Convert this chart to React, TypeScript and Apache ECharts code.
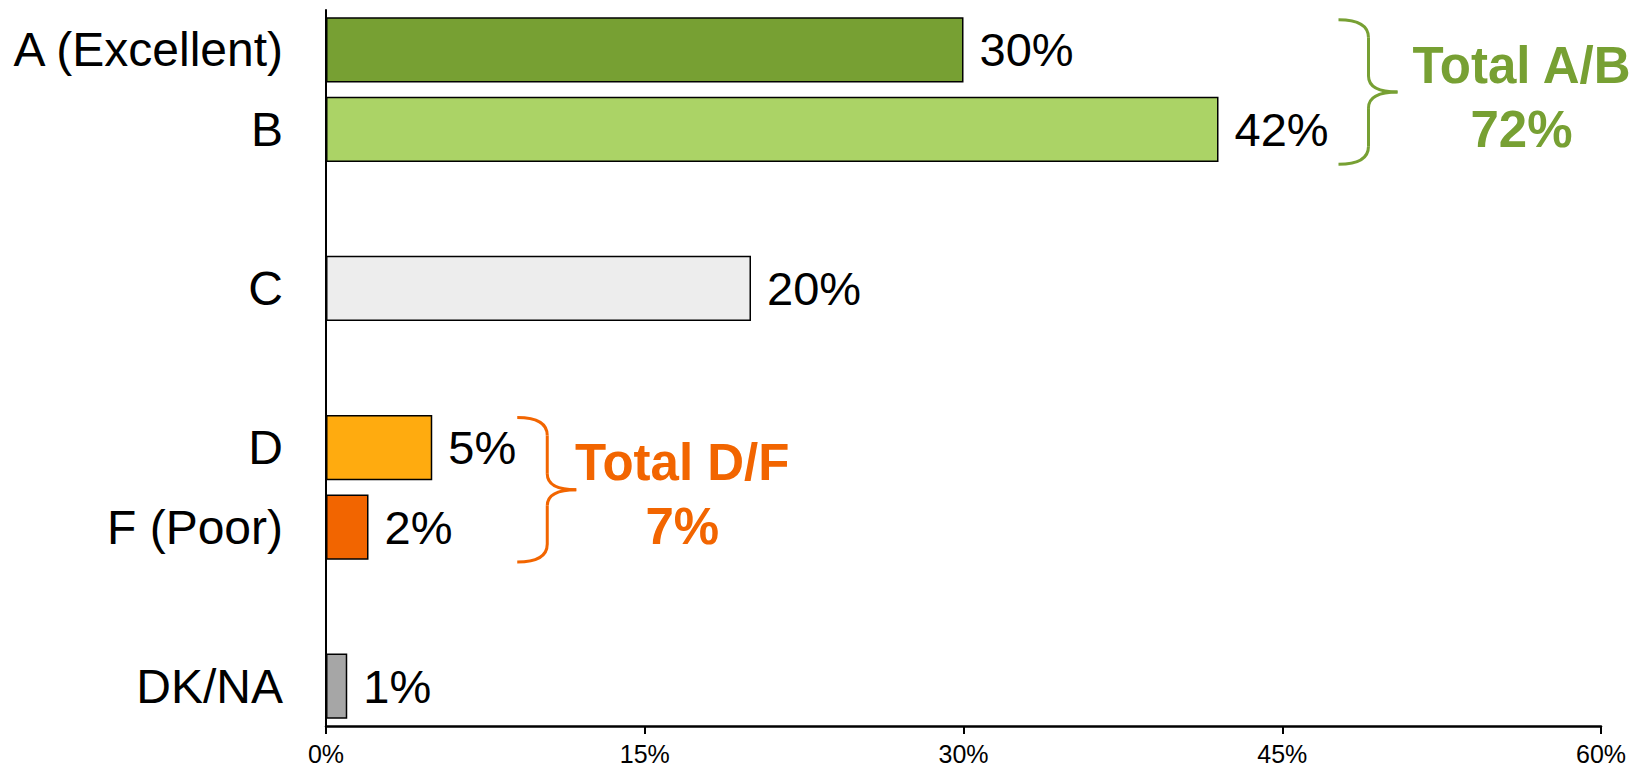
import React, { useEffect, useRef } from "react";
import * as echarts from "echarts";

// ---- data ----
const categories = ["A (Excellent)", "B", "C", "D", "F (Poor)", "DK/NA"];
const values = [30, 42, 20, 5, 2, 1];
const barColors = ["#77A033", "#ABD366", "#EDEDED", "#FFAB0F", "#F26500", "#A6A6A6"];
const gapBefore = ["C", "D", "DK/NA"];
const xTicks = { min: 0, max: 60, interval: 15 };
const groupLabels = ["Total A/B", "Total D/F"];
const groupMembers = [["A (Excellent)", "B"], ["D", "F (Poor)"]];
const groupColors = ["#77A033", "#F26500"];
// annotation layout (pixels relative to bars)
const groupLayout = [
  { braceDx: 120, textDx: 124 },
  { braceDx: 85, textDx: 106 },
];

const FONT = "'Liberation Sans', Arial, Helvetica, sans-serif";

export default function App() {
  const ref = useRef<HTMLDivElement>(null);

  useEffect(() => {
    if (!ref.current) return;
    const chart = echarts.init(ref.current, undefined, { renderer: "svg" });

    const axisData: string[] = [];
    const seriesData: any[] = [];
    let g = 0;
    categories.forEach((c, i) => {
      if (gapBefore.includes(c)) {
        axisData.push("__gap" + g++);
        seriesData.push(null);
      }
      axisData.push(c);
      seriesData.push({ value: values[i], itemStyle: { color: barColors[i] } });
    });

    chart.setOption({
      animation: false,
      grid: { left: 326, right: 40, top: 10, bottom: 44, containLabel: false },
      xAxis: {
        type: "value",
        min: xTicks.min,
        max: xTicks.max,
        interval: xTicks.interval,
        splitLine: { show: false },
        axisLine: { show: true, lineStyle: { color: "#000", width: 2.5 } },
        axisTick: { show: true, length: 8, lineStyle: { color: "#000", width: 2 } },
        axisLabel: {
          formatter: "{value}%",
          color: "#000",
          fontSize: 25,
          fontFamily: FONT,
          margin: 15,
        },
      },
      yAxis: {
        type: "category",
        inverse: true,
        data: axisData,
        axisTick: { show: false },
        axisLine: { show: true, lineStyle: { color: "#000", width: 2 } },
        axisLabel: {
          color: "#000",
          fontSize: 48,
          fontFamily: FONT,
          margin: 43,
          formatter: (v: string) => (v.startsWith("__gap") ? "" : v),
        },
      },
      series: [
        {
          type: "bar",
          data: seriesData,
          barCategoryGap: "18%",
          itemStyle: { borderColor: "#000", borderWidth: 1.5 },
          label: {
            show: true,
            position: "right",
            distance: 16,
            formatter: "{c}%",
            color: "#000",
            fontSize: 47,
            fontFamily: FONT,
          },
        },
      ],
    });

    // annotations: braces and totals
    const graphics: any[] = [];
    groupLabels.forEach((lbl, gi) => {
      const members = groupMembers[gi];
      const vals = members.map((m) => values[categories.indexOf(m)]);
      const total = vals.reduce((a, b) => a + b, 0);
      const maxVal = Math.max(...vals);
      const xMax = chart.convertToPixel({ xAxisIndex: 0 }, maxVal) as number;
      const yFirst = chart.convertToPixel({ yAxisIndex: 0 }, members[0]) as number;
      const yLast = chart.convertToPixel({ yAxisIndex: 0 }, members[members.length - 1]) as number;
      const color = groupColors[gi];
      const lay = groupLayout[gi];
      const top = yFirst - 30;
      const bot = yLast + 35;
      const mid = (top + bot) / 2;
      const x0 = xMax + lay.braceDx;
      const xv = x0 + 30;
      const xt = x0 + 59;
      const r1 = 18;
      const r2 = 16;
      const st = { stroke: color, lineWidth: 3, fill: "none" };
      graphics.push(
        { type: "bezierCurve", shape: { x1: x0, y1: top, x2: xv, y2: top + r1, cpx1: xv, cpy1: top }, style: st },
        { type: "line", shape: { x1: xv, y1: top + r1, x2: xv, y2: mid - r2 }, style: st },
        { type: "bezierCurve", shape: { x1: xv, y1: mid - r2, x2: xt, y2: mid, cpx1: xv, cpy1: mid }, style: st },
        { type: "bezierCurve", shape: { x1: xt, y1: mid, x2: xv, y2: mid + r2, cpx1: xv, cpy1: mid }, style: st },
        { type: "line", shape: { x1: xv, y1: mid + r2, x2: xv, y2: bot - r1 }, style: st },
        { type: "bezierCurve", shape: { x1: xv, y1: bot - r1, x2: x0, y2: bot, cpx1: xv, cpy1: bot }, style: st },
        {
          type: "text",
          x: xt + lay.textDx,
          y: mid + 5,
          style: {
            text: `${lbl}\n${total}%`,
            fill: color,
            fontSize: 51,
            fontWeight: "bold",
            fontFamily: FONT,
            align: "center",
            verticalAlign: "middle",
            lineHeight: 64,
          },
        }
      );
    });
    chart.setOption({ graphic: graphics });

    return () => chart.dispose();
  }, []);

  return (
    <div
      ref={ref}
      style={{ position: "absolute", left: 0, top: 0, width: 1641, height: 770, background: "#fff" }}
    />
  );
}
